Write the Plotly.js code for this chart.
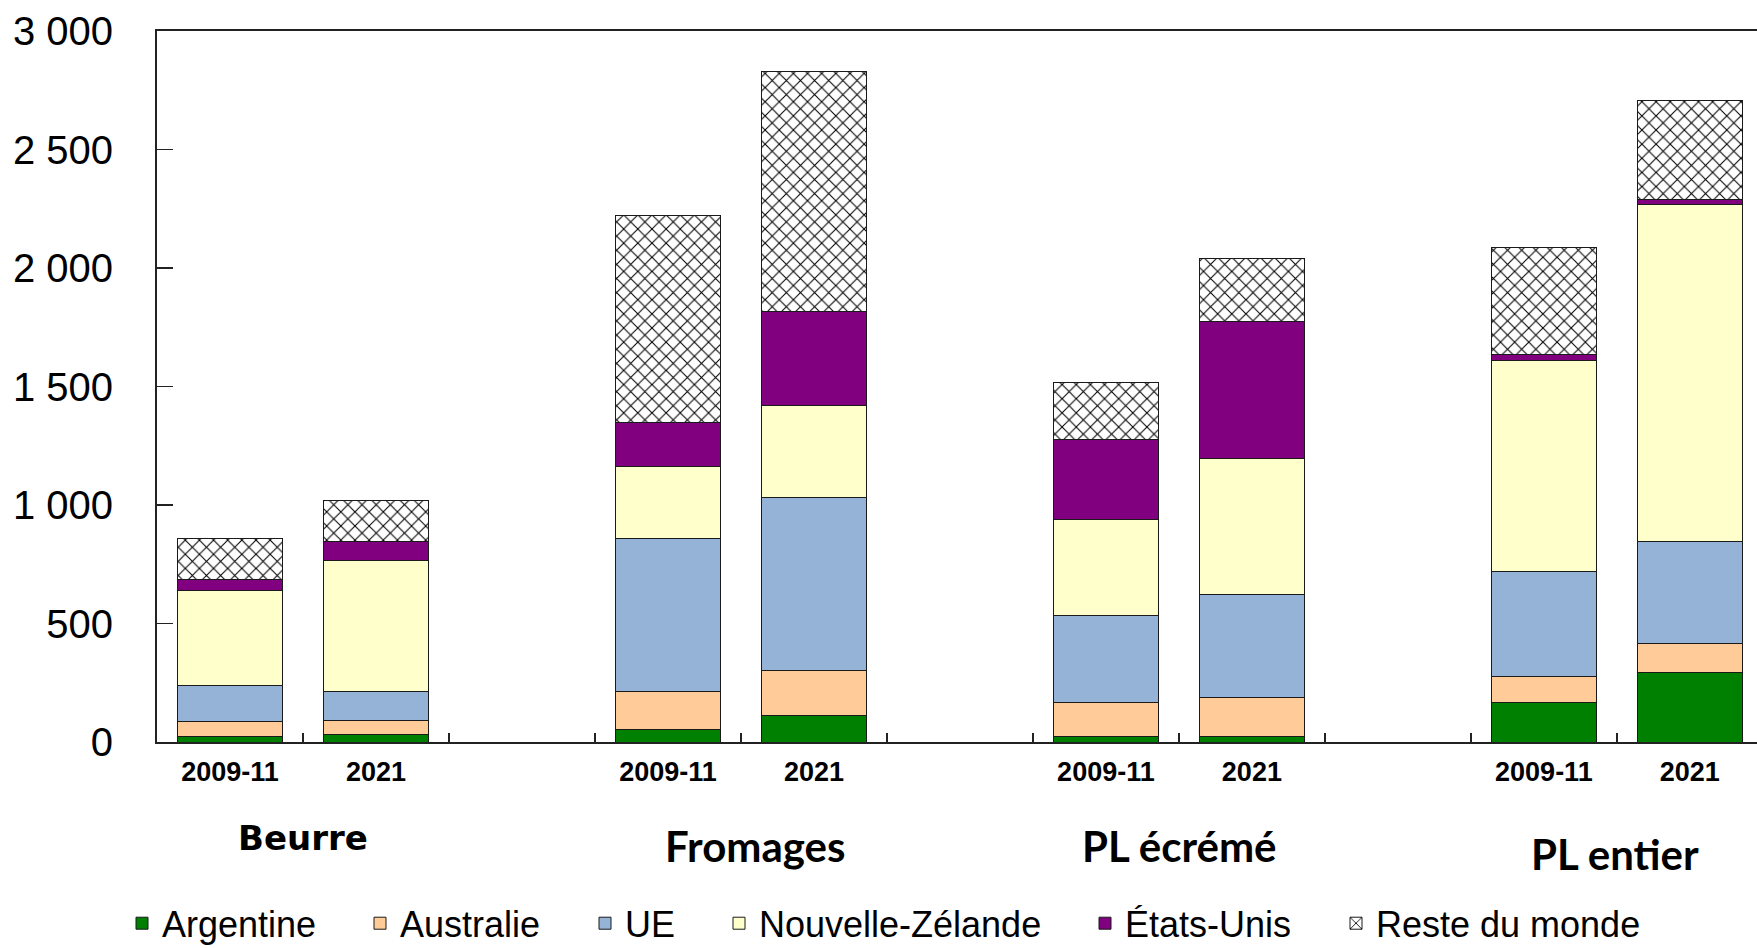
<!DOCTYPE html>
<html>
<head>
<meta charset="utf-8">
<script src="https://cdn.plot.ly/plotly-3.0.1.min.js"></script>
<style>html,body{margin:0;padding:0;background:#fff;}#chart{width:1757px;height:948px;}</style>
</head>
<body>
<div id="chart"></div>
<script>
// ---- data ----
const groups = ['Beurre', 'Fromages', 'PL écrémé', 'PL entier'];
const periods = ['2009-11', '2021'];
const seriesNames = ['Argentine', 'Australie', 'UE', 'Nouvelle-Zélande', 'États-Unis', 'Reste du monde'];
// order: Beurre 2009-11, Beurre 2021, Fromages 2009-11, Fromages 2021, PL écrémé 2009-11, PL écrémé 2021, PL entier 2009-11, PL entier 2021
const argentine     = [23, 33, 53, 111, 24, 24, 166, 292];
const australie     = [62, 59, 158, 190, 144, 163, 109, 122];
const ue            = [152, 121, 647, 730, 366, 436, 444, 432];
const nouvelleZel   = [401, 551, 303, 389, 405, 575, 891, 1421];
const etatsUnis     = [48, 84, 186, 395, 336, 575, 23, 22];
const resteDuMonde  = [171, 172, 875, 1014, 244, 265, 455, 418];
const yTicks = [0, 500, 1000, 1500, 2000, 2500, 3000];

const seriesValues = [argentine, australie, ue, nouvelleZel, etatsUnis, resteDuMonde];
const colors = ['#008000', '#FFCC99', '#95B3D7', '#FFFFCC', '#800080', '#FFFFFF'];

// category slots: each group takes 3 slots (2 bars + 1 empty)
const xPos = [], xText = [];
groups.forEach((g, gi) => periods.forEach((p, pi) => { xPos.push(gi * 3 + pi); xText.push(p); }));
const boundaries = [];
for (let b = 0.5; b <= groups.length * 3 - 0.5; b += 1) boundaries.push(b);

const legendTextLeft = [162, 400, 625, 759, 1125, 1376]; // px positions of the legend entries
const plotLeft = 157, plotWidth = 1600;

const traces = seriesNames.map((name, i) => {
  const t = {
    type: 'bar', name: name, x: xPos, y: seriesValues[i],
    legend: i === 0 ? 'legend' : 'legend' + (i + 1),
    marker: { color: colors[i], line: { color: '#1a1a1a', width: 1 } },
    hoverinfo: 'y+name'
  };
  if (name === 'Reste du monde') {
    t.marker.pattern = { shape: 'x', fgcolor: '#000000', bgcolor: '#FFFFFF', size: 10, solidity: 0.2 };
  }
  return t;
});

const layout = {
  width: 1757, height: 948,
  margin: { l: plotLeft, r: 0, t: 31, b: 206, autoexpand: false },
  paper_bgcolor: '#fff', plot_bgcolor: '#fff',
  barmode: 'stack', bargap: 0.285,
  separators: ', ',
  showlegend: true,
  font: { family: 'Liberation Sans, Arial, sans-serif', color: '#000' },
  xaxis: {
    range: [-0.5, 10.46], showgrid: false, zeroline: false,
    showline: true, linecolor: '#222', linewidth: 2, mirror: true,
    tickmode: 'array', tickvals: xPos, ticktext: xText, ticks: '',
    tickfont: { family: 'Liberation Sans, Arial, sans-serif', size: 27, weight: 'bold', color: '#000' },
    ticklabelstandoff: 5,
    minor: { tickmode: 'array', tickvals: boundaries, ticks: 'inside', ticklen: 9, tickwidth: 1.5, tickcolor: '#222', showgrid: false }
  },
  yaxis: {
    range: [0, 3000], showgrid: false, zeroline: false,
    showline: true, linecolor: '#222', linewidth: 2, mirror: false,
    tickmode: 'array', tickvals: yTicks, ticks: 'inside', ticklen: 16, tickwidth: 1.5, tickcolor: '#222',
    separatethousands: true,
    tickfont: { family: 'Liberation Sans, Arial, sans-serif', size: 40, color: '#000' },
    ticklabelstandoff: 34
  },
  annotations: groups.map((g, gi) => {
    const shifts = [0, 14, 1, -2];
    const ys = [-0.135, -0.146, -0.146, -0.158];
    return {
      text: g, xref: 'x', yref: 'paper', x: gi * 3 + 0.5, y: ys[gi], xshift: shifts[gi],
      showarrow: false, xanchor: 'center', yanchor: 'middle',
      font: gi === 0 ? { family: 'DejaVu Sans', size: 34, weight: 'bold', color: '#000' }
                     : { family: 'Lato', size: 42, weight: 'bold', color: '#000' }
    };
  })
};
seriesNames.forEach((n, i) => {
  const key = i === 0 ? 'legend' : 'legend' + (i + 1);
  layout[key] = {
    orientation: 'h', xanchor: 'left', yanchor: 'middle',
    x: (legendTextLeft[i] - 40 - plotLeft) / plotWidth, y: -0.255,
    bgcolor: 'rgba(0,0,0,0)', borderwidth: 0,
    font: { family: 'Liberation Sans, Arial, sans-serif', size: 36, color: '#000' }
  };
});

Plotly.newPlot('chart', traces, layout, { displayModeBar: false, staticPlot: true });
</script>
</body>
</html>
